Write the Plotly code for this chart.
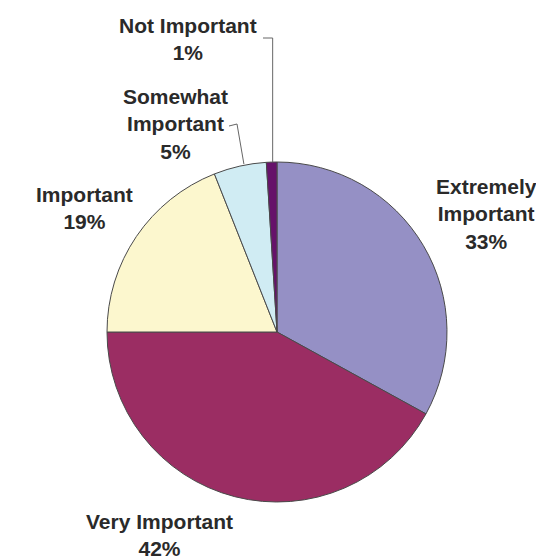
import plotly.graph_objects as go
import math

# Data
categories = ["Extremely Important", "Very Important", "Important", "Somewhat Important", "Not Important"]
values = [33, 42, 19, 5, 1]
colors = ["#9590C5", "#9B2D63", "#FCF7CE", "#D0ECF3", "#66126A"]

W, H = 544, 558
OFF = 8  # page body margin offset
CX, CY, R = 277, 332, 170  # pie centre / radius in screen pixels


def px(x):
    return (x - OFF) / W


def py(y):
    return 1 - (y - OFF) / H


fig = go.Figure(go.Pie(
    labels=categories,
    values=values,
    sort=False,
    direction="clockwise",
    rotation=0,
    textinfo="none",
    hoverinfo="label+percent",
    marker=dict(colors=colors, line=dict(color="#4a4a4a", width=1)),
    domain=dict(x=[px(CX - R), px(CX + R)], y=[py(CY + R), py(CY - R)]),
    showlegend=False,
))

# label positions (pixel centres) for each category
label_pos = {
    "Extremely Important": (486, 214, "Extremely<br>Important"),
    "Very Important": (159, 535, "Very Important"),
    "Important": (84, 208, "Important"),
    "Somewhat Important": (175, 124, "Somewhat<br>Important"),
    "Not Important": (188, 39, "Not Important"),
}

total = sum(values)
annotations = []
for cat, v in zip(categories, values):
    x, y, txt = label_pos[cat]
    pct = round(100 * v / total)
    annotations.append(dict(
        x=px(x), y=py(y), xref="paper", yref="paper",
        text=f"<b>{txt}<br>{pct}%</b>", showarrow=False,
        xanchor="center", yanchor="middle", align="center",
        font=dict(family="Liberation Sans, Arial, sans-serif", size=21, color="#2a2a2a"),
    ))

# leader lines to the slice edges, endpoints from slice mid-angles
cum = 0
mid_angle = {}
for cat, v in zip(categories, values):
    mid_angle[cat] = (cum + v / 2) / total * 2 * math.pi
    cum += v


def edge(cat):
    a = mid_angle[cat]
    return CX + R * math.sin(a), CY - R * math.cos(a)


shapes = []
ex, ey = edge("Not Important")
shapes.append(dict(type="path", xref="paper", yref="paper",
                   path=f"M {px(263)},{py(38)} L {px(ex + 1)},{py(38)} L {px(ex + 1)},{py(ey)}",
                   line=dict(color="#666", width=1)))
ex, ey = edge("Somewhat Important")
shapes.append(dict(type="path", xref="paper", yref="paper",
                   path=f"M {px(229)},{py(126)} L {px(237)},{py(124)} L {px(ex + 4)},{py(ey - 2)}",
                   line=dict(color="#666", width=1)))

fig.update_layout(
    width=W, height=H,
    margin=dict(l=0, r=0, t=0, b=0),
    paper_bgcolor="white", plot_bgcolor="white",
    annotations=annotations, shapes=shapes,
)

fig.write_html("out.html")
